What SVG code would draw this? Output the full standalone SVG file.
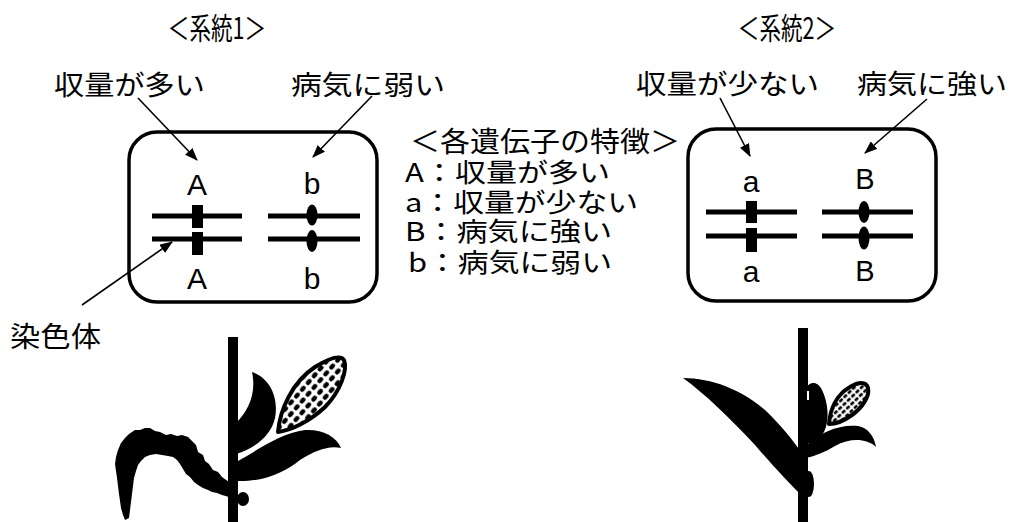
<svg xmlns="http://www.w3.org/2000/svg" width="1017" height="522" viewBox="0 0 1017 522">
  <style>
    .jp { font-family: "Noto Sans CJK JP", "Noto Sans", sans-serif; fill: #000; dominant-baseline: central; }
    .hd { font-family: "Noto Sans CJK JP", "Noto Sans", sans-serif; fill: #000; dominant-baseline: central; text-anchor: middle; font-size: 30px; }
    .gene { font-family: "Liberation Sans", Arial, sans-serif; fill: #000; text-anchor: middle; }
    .box { fill: #fff; stroke: #000; stroke-width: 3.5; }
    .arm { stroke: #000; stroke-width: 5; }
    .ptr { stroke: #000; stroke-width: 1.6; fill: none; marker-end: url(#head); }
    .ink { fill: #000; }
    .cob { stroke: #000; stroke-width: 4; stroke-linejoin: round; }
  </style>
  <defs>
    <marker id="head" markerUnits="userSpaceOnUse" markerWidth="13" markerHeight="10" refX="12" refY="5" orient="auto">
      <path d="M0,0 L13,5 L0,10 Z" fill="#000"/>
    </marker>
    <!-- kernel rows of the corn ears -->
    <pattern id="kernels" patternUnits="userSpaceOnUse" width="9" height="7.5" patternTransform="rotate(-49)">
      <rect width="9" height="7.5" fill="#fff"/>
      <rect x="1" y="1.3" width="6.5" height="4.6" rx="2" fill="#000"/>
    </pattern>
    <pattern id="kernelsSmall" patternUnits="userSpaceOnUse" width="6" height="5" patternTransform="rotate(-44)">
      <rect width="6" height="5" fill="#fff"/>
      <rect x="0.6" y="0.8" width="4.4" height="2.8" rx="1.2" fill="#000"/>
    </pattern>
  </defs>

  <rect width="1017" height="522" fill="#fff"/>

  <!-- headings in condensed type -->
  <g id="heading-1">
    <text class="hd" transform="translate(217,26) scale(0.72,1)">＜系統1＞</text>
  </g>
  <g id="heading-2">
    <text class="hd" transform="translate(787,26) scale(0.72,1)">＜系統2＞</text>
  </g>

  <!-- trait labels -->
  <g id="label-yield-high">
    <text class="jp" x="54" y="83" font-size="27" textLength="151" lengthAdjust="spacingAndGlyphs">収量が多い</text>
  </g>
  <g id="label-disease-weak">
    <text class="jp" x="291" y="83" font-size="27" textLength="154" lengthAdjust="spacingAndGlyphs">病気に弱い</text>
  </g>
  <g id="label-yield-low">
    <text class="jp" x="636" y="82" font-size="27" textLength="183" lengthAdjust="spacingAndGlyphs">収量が少ない</text>
  </g>
  <g id="label-disease-strong">
    <text class="jp" x="857" y="82" font-size="27" textLength="150" lengthAdjust="spacingAndGlyphs">病気に強い</text>
  </g>
  <g id="label-chromosome">
    <text class="jp" x="10" y="335" font-size="28" textLength="91" lengthAdjust="spacingAndGlyphs">染色体</text>
  </g>

  <!-- legend of gene traits -->
  <g id="legend">
    <text class="jp" x="410" y="140" font-size="28" textLength="270" lengthAdjust="spacingAndGlyphs">＜各遺伝子の特徴＞</text>
    <text class="jp" x="405" y="170" font-size="26" textLength="205" lengthAdjust="spacingAndGlyphs">A：収量が多い</text>
    <text class="jp" x="405" y="200" font-size="26" textLength="233" lengthAdjust="spacingAndGlyphs">a：収量が少ない</text>
    <text class="jp" x="405" y="229" font-size="26" textLength="207" lengthAdjust="spacingAndGlyphs">B：病気に強い</text>
    <text class="jp" x="408" y="260" font-size="26" textLength="204" lengthAdjust="spacingAndGlyphs">b：病気に弱い</text>
  </g>

  <!-- line 1 chromosome pair -->
  <g id="cell-1">
    <rect class="box" x="129" y="132" width="248" height="170" rx="28"/>
    <text class="gene" x="197" y="195" font-size="30">A</text>
    <text class="gene" x="312" y="194" font-size="30">b</text>
    <line class="arm" x1="152" y1="216" x2="242" y2="216"/>
    <line class="arm" x1="152" y1="239" x2="242" y2="239"/>
    <rect class="ink" x="192" y="205" width="11" height="23"/>
    <rect class="ink" x="192" y="232" width="11" height="23"/>
    <line class="arm" x1="268" y1="216" x2="360" y2="216"/>
    <line class="arm" x1="268" y1="239" x2="360" y2="239"/>
    <ellipse class="ink" cx="312" cy="215" rx="5.5" ry="10.5"/>
    <ellipse class="ink" cx="312" cy="241" rx="5.5" ry="11"/>
    <text class="gene" x="197" y="289" font-size="30">A</text>
    <text class="gene" x="312" y="289" font-size="30">b</text>
  </g>

  <!-- line 2 chromosome pair -->
  <g id="cell-2">
    <rect class="box" x="688" y="129" width="248" height="172" rx="28"/>
    <text class="gene" x="751" y="192" font-size="30">a</text>
    <text class="gene" x="865" y="189" font-size="29">B</text>
    <line class="arm" x1="706" y1="212" x2="797" y2="212"/>
    <line class="arm" x1="706" y1="236" x2="797" y2="236"/>
    <rect class="ink" x="746" y="201" width="11" height="22"/>
    <rect class="ink" x="746" y="228" width="11" height="24"/>
    <line class="arm" x1="822" y1="212" x2="913" y2="212"/>
    <line class="arm" x1="822" y1="236" x2="913" y2="236"/>
    <ellipse class="ink" cx="864" cy="212" rx="5.5" ry="11"/>
    <ellipse class="ink" cx="864" cy="238" rx="5.5" ry="11.5"/>
    <text class="gene" x="751" y="282" font-size="30">a</text>
    <text class="gene" x="865" y="281" font-size="29">B</text>
  </g>

  <!-- pointers -->
  <g id="connectors">
    <line class="ptr" x1="138" y1="98" x2="197" y2="160"/>
    <line class="ptr" x1="372" y1="96" x2="313" y2="157"/>
    <line class="ptr" x1="720" y1="98" x2="750" y2="156"/>
    <line class="ptr" x1="927" y1="99" x2="865" y2="153"/>
    <line class="ptr" x1="82" y1="305" x2="172" y2="242"/>
  </g>

  <!-- corn plant of line 1: wilted leaf, large ear -->
  <g id="plant-1">
    <rect class="ink" x="228" y="337" width="10" height="185"/>
    <path class="ink" d="M229 482 L222 477 L218 472 L213 470 L209 464 L205 461 L203 455 L198 452 L196 445 L192 441 L188 437 L182 435 L177 436 L171 434 L166 435 L160 432 L155 431 L150 428 L145 428 L140 430 L135 430 L129 434 L125 438 L121 443 L118 450 L116 457 L115 464 L116 471 L117 478 L118 486 L119 494 L120 501 L121 508 L123 515 L125 520 L129 518 L130 510 L131 502 L132 494 L133 486 L134 478 L136 471 L138 465 L141 461 L145 457 L150 455 L156 454 L162 455 L168 456 L173 457 L177 460 L180 464 L183 469 L186 474 L190 477 L194 482 L198 485 L203 488 L208 490 L212 492 L217 493 L222 495 L229 497 Z"/>
    <ellipse class="ink" cx="243" cy="499" rx="6" ry="7"/>
    <path class="ink" d="M236 423 C247 412 257 395 252 372 C270 378 279 398 275 418 C271 436 255 448 236 454 Z"/>
    <path class="ink" d="M236 462 C255 452 280 433 305 430 C322 429 336 436 341 448 C330 445 315 450 300 460 C285 472 265 482 236 481 Z"/>
    <path class="cob" fill="url(#kernels)" d="M278 432 C280 410 292 382 315 367 C328 359 340 354 344 360 C348 370 340 392 325 407 C310 421 292 430 278 432 Z"/>
  </g>

  <!-- corn plant of line 2: upright leaf, small ear -->
  <g id="plant-2">
    <rect class="ink" x="798" y="328" width="10" height="194"/>
    <path class="ink" d="M683 378 C712 378 742 390 765 410 C782 426 794 442 801 452 L802 496 C790 484 772 465 755 445 C730 418 705 394 683 378 Z"/>
    <ellipse class="ink" cx="809" cy="484" rx="5" ry="13"/>
    <path class="ink" d="M806 388 C810 381 818 381 822 390 C828 402 830 420 824 432 C818 440 810 444 806 444 Z"/>
    <line x1="808" y1="391" x2="808" y2="400" stroke="#fff" stroke-width="2"/>
    <path class="ink" d="M806 446 C820 432 840 424 858 426 C868 428 874 436 876 447 C866 438 850 438 835 446 C825 452 815 456 806 458 Z"/>
    <path class="cob" fill="url(#kernelsSmall)" stroke-width="3.5" d="M829 424 C830 410 836 395 850 387 C858 382 866 381 868 388 C870 396 862 408 852 415 C845 420 836 424 829 424 Z"/>
  </g>
</svg>
